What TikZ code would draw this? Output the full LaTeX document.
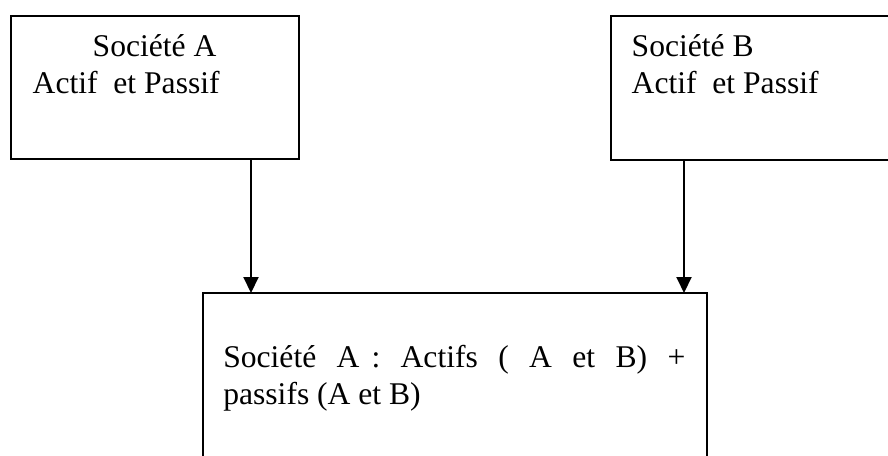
\documentclass[tikz,border=0pt]{standalone}
\usepackage{fontspec}
\setmainfont{Liberation Serif}
\usetikzlibrary{arrows.meta}
\begin{document}
\begin{tikzpicture}[x=1pt,y=-1pt,
  box/.style={draw,line width=2pt,rectangle,inner sep=0pt,outer sep=0pt,anchor=north west},
  txt/.style={anchor=base west,inner sep=0pt,outer sep=0pt,font=\fontsize{31.6}{37}\selectfont},
  arr/.style={line width=2pt,-{Triangle[width=15pt,length=16pt]}}]
\useasboundingbox (0,0) rectangle (888,455);
\clip (0,0) rectangle (888,455);
\fill[white] (0,0) rectangle (888,455);
% boxes
\node[box,minimum width=287.5pt,minimum height=143pt] (boxA) at (11,16) {};
\node[box,minimum width=300pt,minimum height=144pt] (boxB) at (611,16) {};
\node[box,minimum width=504pt,minimum height=200pt] (boxC) at (203,293) {};
% arrows
\coordinate (xa) at (251,0);
\coordinate (xb) at (684,0);
\draw[arr] (boxA.south -| xa) -- (boxC.north -| xa);
\draw[arr] (boxB.south -| xb) -- (boxC.north -| xb);
% texts
\node[txt] (tA1) at (92.7,56) {Société A};
\node[txt] (tA2) at (32.7,93.3) {Actif\ \ et Passif};
\node[txt] (tB1) at (631.7,56) {Société B};
\node[txt] (tB2) at (631.7,93.3) {Actif\ \ et Passif};
\node[txt] (tC1) at (223.3,367.5) {\makebox[462pt][s]{Société A\hspace{12pt}: Actifs ( A et B) +}};
\node[txt] (tC2) at (223.3,404.5) {passifs (A et B)};
\end{tikzpicture}
\end{document}
